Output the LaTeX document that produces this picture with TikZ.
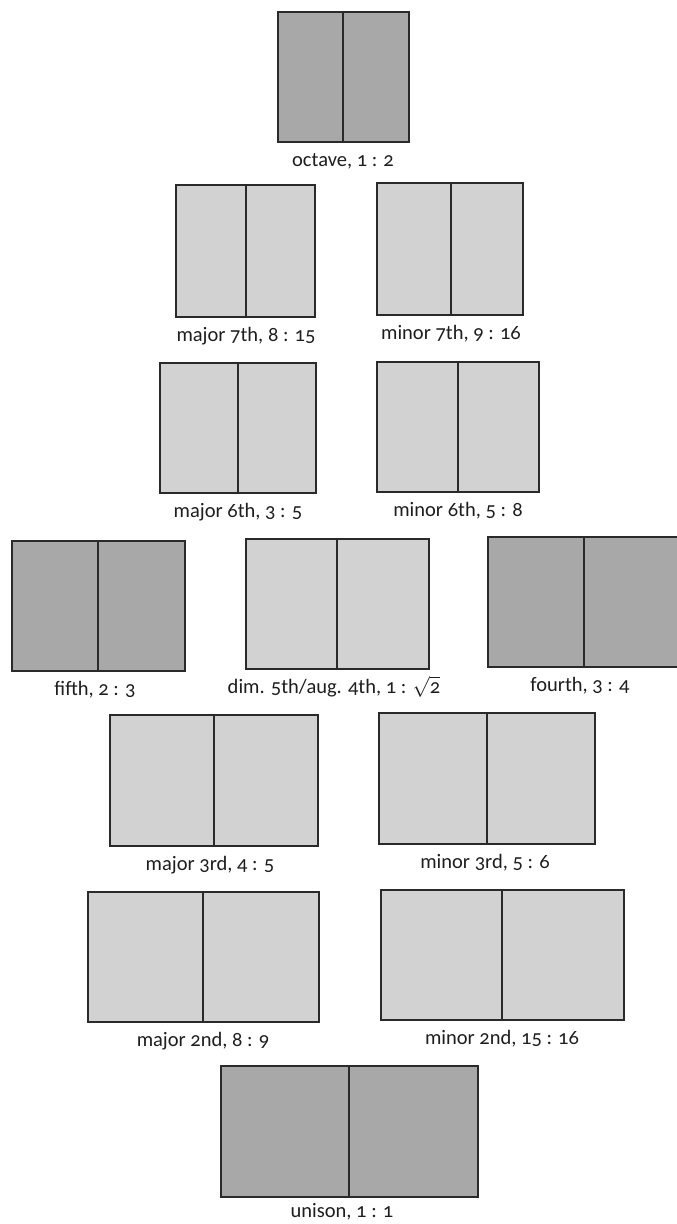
\documentclass[tikz,border=0pt]{standalone}
\usepackage{fontspec}
\setmainfont[Numbers=OldStyle]{Carlito}
\definecolor{edge}{HTML}{2A2A2A}
\definecolor{darkfill}{HTML}{A8A8A8}
\definecolor{lightfill}{HTML}{D2D2D2}
\definecolor{txt}{HTML}{1E1E1E}
\newcommand\lbloff{24}
\newcommand\ivl[9]{%
  \node[half,#7,minimum width={#3-#2},minimum height={#6-#5}] (#1L) at ({(#2+#3)/2},{(#5+#6)/2}) {};
  \node[half,#7,minimum width={#4-#3},minimum height={#6-#5}] (#1R) at ({(#3+#4)/2},{(#5+#6)/2}) {};
  \node[lbl] (#1T) at (#9,{#6+\lbloff}) {#8};
}
\begin{document}
\begin{tikzpicture}[x=1pt,y=-1pt,
  half/.style={draw=edge, line width=2.3pt, inner sep=0pt, outer sep=0pt},
  dark/.style={fill=darkfill},
  light/.style={fill=lightfill},
  lbl/.style={font=\fontsize{20.5}{24}\selectfont, text=txt, anchor=base, inner sep=0pt}]
\fill[white] (0,0) rectangle (677,1224);
\useasboundingbox (0,0) rectangle (677,1224);
\ivl{oct}{278}{343}{409}{12}{142}{dark}{octave, 1 : 2}{343}
\ivl{maj7}{176}{246}{315}{185}{317}{light}{major 7th, 8 : 15}{246}
\ivl{min7}{377}{451}{523}{183}{315}{light}{minor 7th, 9 : 16}{451}
\ivl{maj6}{160}{238}{316}{363}{493}{light}{major 6th, 3 : 5}{238}
\ivl{min6}{377}{458}{539}{362}{492}{light}{minor 6th, 5 : 8}{458}
\ivl{fif}{12}{98}{185}{541}{671}{dark}{fifth, 2 : 3}{95}
\ivl{tri}{246}{337}{429}{539}{669}{light}{dim. 5th/aug. 4th, 1 : $\sqrt{\mbox{2}}$}{334}
\ivl{four}{488}{584}{678}{537}{667}{dark}{fourth, 3 : 4}{580}
\ivl{maj3}{110}{214}{318}{715}{846}{light}{major 3rd, 4 : 5}{210}
\ivl{min3}{379}{487}{595}{713}{844}{light}{minor 3rd, 5 : 6}{485}
\ivl{maj2}{88}{203}{319}{892}{1022}{light}{major 2nd, 8 : 9}{203}
\ivl{min2}{381}{502}{624}{890}{1020}{light}{minor 2nd, 15 : 16}{502}
\renewcommand\lbloff{20}
\ivl{uni}{221}{349}{478}{1066}{1197}{dark}{unison, 1 : 1}{342}
\end{tikzpicture}
\end{document}
